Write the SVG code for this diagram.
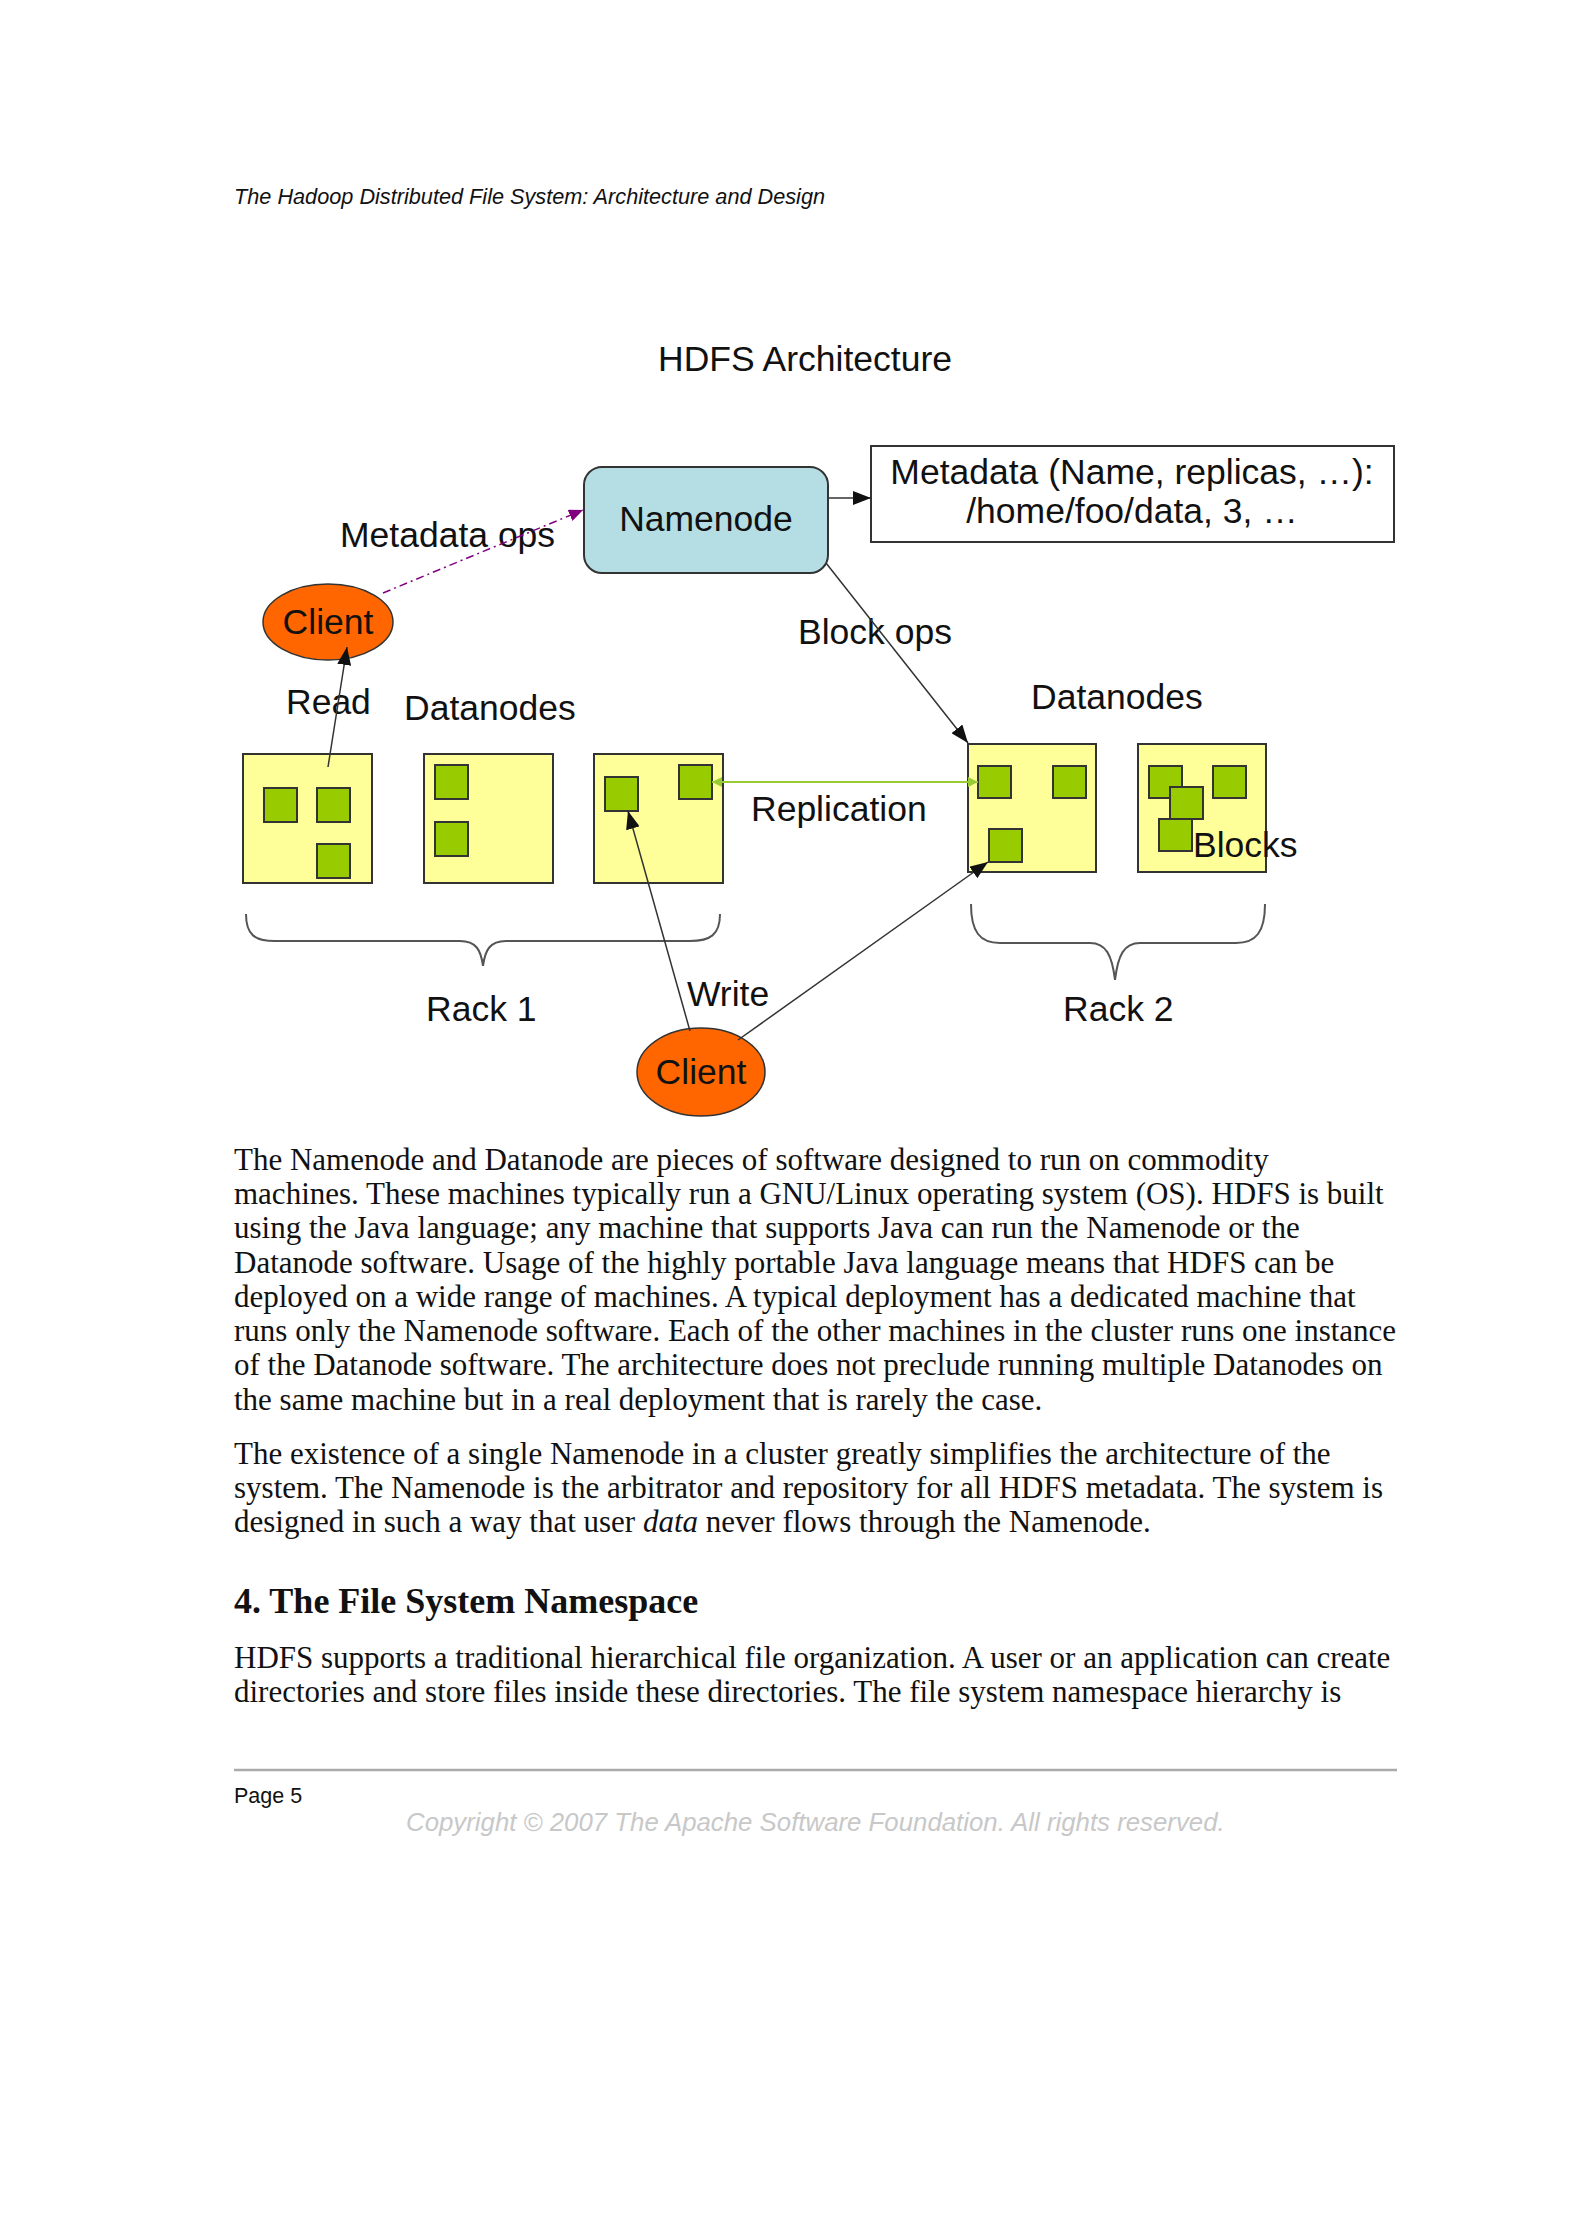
<svg xmlns="http://www.w3.org/2000/svg" width="1584" height="2240" viewBox="0 0 1584 2240">
<style>
.lbl{font-family:"Liberation Sans",Arial,sans-serif;font-size:35.5px;fill:#111}
.body{font-family:"Liberation Serif","Times New Roman",serif;font-size:31px;fill:#111}
.dn{fill:#ffff99;stroke:#333;stroke-width:2}
.blk{fill:#99cc00;stroke:#333;stroke-width:2}
.cl{fill:#ff6600;stroke:#333;stroke-width:1.5}
.ln{fill:none;stroke:#333;stroke-width:1.5}
.brace{fill:none;stroke:#555;stroke-width:2}
</style>
<defs>
<marker id="ah" markerUnits="userSpaceOnUse" markerWidth="20" markerHeight="14" refX="18" refY="7" orient="auto"><path d="M0,0 L18,7 L0,14 z" fill="#111"/></marker>
<marker id="ahp" markerUnits="userSpaceOnUse" markerWidth="16" markerHeight="12" refX="14" refY="6" orient="auto"><path d="M0,0 L14,6 L0,12 z" fill="#800080"/></marker>
<marker id="ahg" markerUnits="userSpaceOnUse" markerWidth="12" markerHeight="10" refX="10" refY="5" orient="auto"><path d="M0,0 L10,5 L0,10 z" fill="#99cc33"/></marker>
<marker id="ahgs" markerUnits="userSpaceOnUse" markerWidth="12" markerHeight="10" refX="0" refY="5" orient="auto"><path d="M10,0 L0,5 L10,10 z" fill="#99cc33"/></marker>
</defs>
<rect width="1584" height="2240" fill="#fff"/>

<text x="234" y="204" font-family="Liberation Sans,Arial,sans-serif" font-style="italic" font-size="21.7" fill="#111">The Hadoop Distributed File System: Architecture and Design</text>
<text x="658" y="371" class="lbl">HDFS Architecture</text>

<g id="namenode">
<rect x="584" y="467" width="244" height="106" rx="18" fill="#b5dee4" stroke="#333" stroke-width="2"/>
<text x="706" y="531" class="lbl" text-anchor="middle">Namenode</text>
</g>
<g id="metadata">
<rect x="871" y="446" width="523" height="96" fill="#fff" stroke="#333" stroke-width="2"/>
<text x="1132" y="484" class="lbl" text-anchor="middle">Metadata (Name, replicas, …):</text>
<text x="1132" y="523" class="lbl" text-anchor="middle">/home/foo/data, 3, …</text>
</g>
<g id="metadata-ops-label"><text x="340" y="547" class="lbl">Metadata ops</text></g>
<g id="block-ops-label"><text x="798" y="644" class="lbl">Block ops</text></g>

<g id="client1">
<ellipse cx="328" cy="622" rx="65" ry="38" class="cl"/>
<text x="328" y="634" class="lbl" text-anchor="middle">Client</text>
</g>
<g id="read-label"><text x="286" y="714" class="lbl">Read</text></g>
<g id="datanodes-label1"><text x="404" y="720" class="lbl">Datanodes</text></g>
<g id="datanodes-label2"><text x="1031" y="709" class="lbl">Datanodes</text></g>

<g id="dn1">
<rect x="243" y="754" width="129" height="129" class="dn"/>
<rect x="264" y="788" width="33" height="34" class="blk"/>
<rect x="317" y="788" width="33" height="34" class="blk"/>
<rect x="317" y="844" width="33" height="34" class="blk"/>
</g>
<g id="dn2">
<rect x="424" y="754" width="129" height="129" class="dn"/>
<rect x="435" y="765" width="33" height="34" class="blk"/>
<rect x="435" y="822" width="33" height="34" class="blk"/>
</g>
<g id="dn3">
<rect x="594" y="754" width="129" height="129" class="dn"/>
<rect x="605" y="777" width="33" height="34" class="blk"/>
<rect x="679" y="765" width="33" height="34" class="blk"/>
</g>
<g id="replication-label"><text x="751" y="821" class="lbl">Replication</text></g>
<g id="dn4">
<rect x="968" y="744" width="128" height="128" class="dn"/>
<rect x="978" y="766" width="33" height="32" class="blk"/>
<rect x="1053" y="766" width="33" height="32" class="blk"/>
<rect x="989" y="829" width="33" height="33" class="blk"/>
</g>
<g id="dn5">
<rect x="1138" y="744" width="128" height="128" class="dn"/>
<rect x="1149" y="766" width="33" height="32" class="blk"/>
<rect x="1213" y="766" width="33" height="32" class="blk"/>
<rect x="1170" y="787" width="33" height="32" class="blk"/>
<rect x="1159" y="819" width="33" height="32" class="blk"/>
<text x="1193" y="857" class="lbl">Blocks</text>
</g>

<g id="rack1">
<path class="brace" d="M246,914 C246,935 255,941 275,941 L460,941 C476,941 481,950 483,966 C485,950 490,941 506,941 L690,941 C710,941 720,935 720,914"/>
<text x="426" y="1021" class="lbl">Rack 1</text>
</g>
<g id="rack2">
<path class="brace" d="M971,904 C971,932 980,943 1000,943 L1090,943 C1106,943 1112,955 1115,980 C1118,955 1124,943 1140,943 L1236,943 C1256,943 1265,932 1265,904"/>
<text x="1063" y="1021" class="lbl">Rack 2</text>
</g>
<g id="write-label"><text x="687" y="1006" class="lbl">Write</text></g>
<g id="client2">
<ellipse cx="701" cy="1072" rx="64" ry="44" class="cl"/>
<text x="701" y="1084" class="lbl" text-anchor="middle">Client</text>
</g>

<g id="connectors">
<line x1="829" y1="498" x2="871" y2="498" class="ln" marker-end="url(#ah)"/>
<line x1="383" y1="593" x2="583" y2="510" fill="none" stroke="#800080" stroke-width="1.5" stroke-dasharray="8,4,2,4" marker-end="url(#ahp)"/>
<line x1="328" y1="767" x2="347" y2="647" class="ln" marker-end="url(#ah)"/>
<line x1="826" y1="563" x2="968" y2="743" class="ln" marker-end="url(#ah)"/>
<line x1="712" y1="782" x2="978" y2="782" stroke="#99cc33" stroke-width="2" marker-start="url(#ahgs)" marker-end="url(#ahg)"/>
<line x1="690" y1="1031" x2="628" y2="811" class="ln" marker-end="url(#ah)"/>
<line x1="738" y1="1040" x2="988" y2="862" class="ln" marker-end="url(#ah)"/>
</g>

<g id="page-text">
<text x="234" y="1170" class="body">The Namenode and Datanode are pieces of software designed to run on commodity</text>
<text x="234" y="1204" class="body">machines. These machines typically run a GNU/Linux operating system (OS). HDFS is built</text>
<text x="234" y="1238" class="body">using the Java language; any machine that supports Java can run the Namenode or the</text>
<text x="234" y="1273" class="body">Datanode software. Usage of the highly portable Java language means that HDFS can be</text>
<text x="234" y="1307" class="body">deployed on a wide range of machines. A typical deployment has a dedicated machine that</text>
<text x="234" y="1341" class="body">runs only the Namenode software. Each of the other machines in the cluster runs one instance</text>
<text x="234" y="1375" class="body">of the Datanode software. The architecture does not preclude running multiple Datanodes on</text>
<text x="234" y="1410" class="body">the same machine but in a real deployment that is rarely the case.</text>
<text x="234" y="1464" class="body">The existence of a single Namenode in a cluster greatly simplifies the architecture of the</text>
<text x="234" y="1498" class="body">system. The Namenode is the arbitrator and repository for all HDFS metadata. The system is</text>
<text x="234" y="1532" class="body">designed in such a way that user <tspan font-style="italic">data</tspan> never flows through the Namenode.</text>
<text x="234" y="1613" font-family="Liberation Serif,Times New Roman,serif" font-weight="bold" font-size="36" fill="#111">4. The File System Namespace</text>
<text x="234" y="1668" class="body">HDFS supports a traditional hierarchical file organization. A user or an application can create</text>
<text x="234" y="1702" class="body">directories and store files inside these directories. The file system namespace hierarchy is</text>
</g>
<line x1="234" y1="1770" x2="1397" y2="1770" stroke="#aaa" stroke-width="2.5"/>
<text x="234" y="1803" font-family="Liberation Sans,Arial,sans-serif" font-size="21.5" fill="#111">Page 5</text>
<text x="406" y="1831" font-family="Liberation Sans,Arial,sans-serif" font-style="italic" font-size="25.8" fill="#c8c8c8">Copyright © 2007 The Apache Software Foundation. All rights reserved.</text>
</svg>
